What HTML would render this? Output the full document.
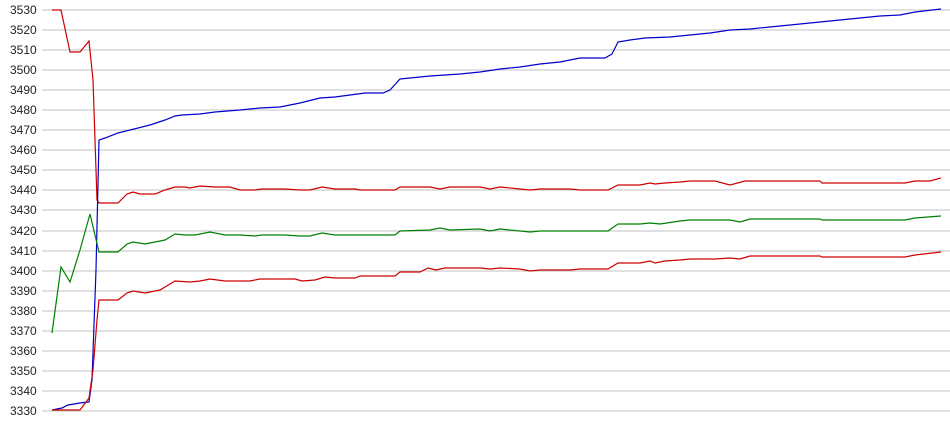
<!DOCTYPE html>
<html><head><meta charset="utf-8"><style>
html,body{margin:0;padding:0;background:#fff;width:950px;height:435px;overflow:hidden}
text{font-family:"Liberation Sans",sans-serif;font-size:12px;fill:#222}
</style></head><body>
<svg width="950" height="435" xmlns="http://www.w3.org/2000/svg">
<g stroke="#c0c0c0" stroke-width="1" shape-rendering="crispEdges">
<line x1="42" x2="950" y1="10" y2="10"/><line x1="42" x2="950" y1="30" y2="30"/><line x1="42" x2="950" y1="50" y2="50"/><line x1="42" x2="950" y1="70" y2="70"/><line x1="42" x2="950" y1="90" y2="90"/><line x1="42" x2="950" y1="110" y2="110"/><line x1="42" x2="950" y1="130" y2="130"/><line x1="42" x2="950" y1="150" y2="150"/><line x1="42" x2="950" y1="170" y2="170"/><line x1="42" x2="950" y1="190" y2="190"/><line x1="42" x2="950" y1="210" y2="210"/><line x1="42" x2="950" y1="231" y2="231"/><line x1="42" x2="950" y1="251" y2="251"/><line x1="42" x2="950" y1="271" y2="271"/><line x1="42" x2="950" y1="291" y2="291"/><line x1="42" x2="950" y1="311" y2="311"/><line x1="42" x2="950" y1="331" y2="331"/><line x1="42" x2="950" y1="351" y2="351"/><line x1="42" x2="950" y1="371" y2="371"/><line x1="42" x2="950" y1="391" y2="391"/><line x1="42" x2="950" y1="411" y2="411"/>
</g>
<g>
<text x="10" y="14">3530</text><text x="10" y="34">3520</text><text x="10" y="54">3510</text><text x="10" y="74">3500</text><text x="10" y="94">3490</text><text x="10" y="114">3480</text><text x="10" y="134">3470</text><text x="10" y="154">3460</text><text x="10" y="174">3450</text><text x="10" y="194">3440</text><text x="10" y="214">3430</text><text x="10" y="235">3420</text><text x="10" y="255">3410</text><text x="10" y="275">3400</text><text x="10" y="295">3390</text><text x="10" y="315">3380</text><text x="10" y="335">3370</text><text x="10" y="355">3360</text><text x="10" y="375">3350</text><text x="10" y="395">3340</text><text x="10" y="415">3330</text>
</g>
<g fill="none" stroke-width="1.2">
<polyline stroke="#cc0000" points="52,10 61,10 70,52 80,52 89,41 93,80 97,200 99,203 118,203 127,194 133,192 140,194 155,194 165,190 175,187 185,187 190,188 200,186 215,187 230,187 240,190 255,190 262,189 285,189 300,190 310,190 322,187 335,189 355,189 360,190 395,190 400,187 430,187 440,189 450,187 480,187 490,189 500,187 520,189 530,190 540,189 570,189 580,190 608,190 618,185 640,185 650,183 655,184 665,183 680,182 690,181 715,181 730,185 745,181 820,181 822,183 905,183 915,181 930,181 941,178"/>
<polyline stroke="#0000cc" points="52,410 62,408 68,405 80,403 89,402 92,380 96,270 99,140 105,138 118,133 130,130 150,125 165,120 175,116 182,115 200,114 215,112 240,110 260,108 280,107 300,103 320,98 335,97 350,95 365,93 383,93 390,90 400,79 410,78 430,76 460,74 480,72 500,69 520,67 540,64 560,62 570,60 580,58 605,58 612,54 618,42 630,40 645,38 670,37 690,35 710,33 730,30 750,29 770,27 800,24 820,22 840,20 860,18 880,16 900,15 915,12 941,9"/>
<polyline stroke="#008000" points="52,333 61,267 70,282 80,250 90,214 99,252 118,252 127,244 133,242 145,244 165,240 175,234 185,235 195,235 210,232 225,235 240,235 255,236 262,235 285,235 300,236 310,236 322,233 335,235 395,235 400,231 430,230 440,228 450,230 480,229 490,231 500,229 520,231 530,232 540,231 608,231 618,224 640,224 650,223 660,224 680,221 690,220 730,220 740,222 750,219 820,219 822,220 905,220 915,218 941,216"/>
<polyline stroke="#cc0000" points="52,410 80,410 89,398 93,370 97,320 99,300 118,300 127,293 133,291 145,293 160,290 175,281 190,282 200,281 210,279 225,281 250,281 260,279 295,279 302,281 315,280 325,277 335,278 355,278 360,276 395,276 400,272 420,272 428,268 436,270 445,268 480,268 490,269 500,268 520,269 530,271 540,270 570,270 580,269 608,269 618,263 640,263 650,261 655,263 665,261 680,260 690,259 715,259 730,258 740,259 750,256 820,256 822,257 905,257 915,255 941,252"/>
</g>
</svg>
</body></html>
